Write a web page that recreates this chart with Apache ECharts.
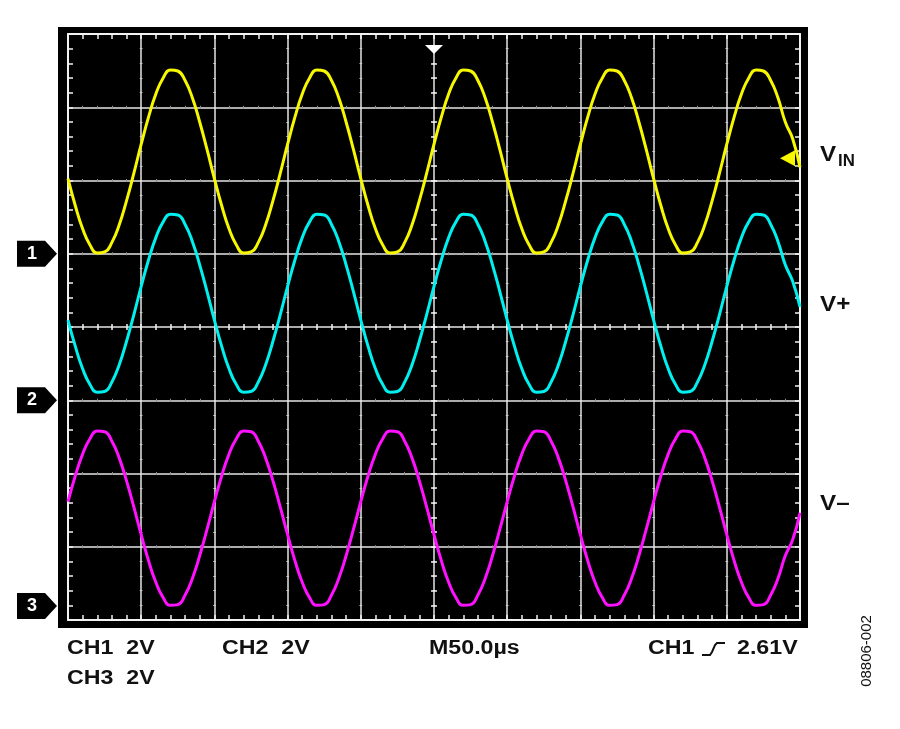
<!DOCTYPE html>
<html>
<head>
<meta charset="utf-8">
<script src="https://cdn.jsdelivr.net/npm/echarts@6.0.0/dist/echarts.min.js"></script>
<style>
html,body{margin:0;padding:0;background:#ffffff;}
#c{width:900px;height:729px;}
</style>
</head>
<body>
<div id="c"></div>
<script>
// ---- data ----
const SAMPLE_STEP_US = 5;          // one sample every 5 µs, 0 … 500 µs
const TIME_DIV_US = 50;            // M50.0µs
const VOLTS_PER_DIV = 2;           // CH1/CH2/CH3 2V
const CH1_GROUND_DIV = 1;          // marker "1" (divisions from screen centre)
const CH2_GROUND_DIV = -1;         // marker "2"
const CH3_GROUND_DIV = -3.81;      // marker "3"
const TRIGGER_LEVEL_V = 2.61;      // CH1 rising 2.61V

// VIN (CH1), volts
const CH1_VIN = [
  2.05,1.31,0.68,0.24,0.02,0.05,0.31,0.79,1.45,2.20,2.99,3.73,4.36,4.80,5.02,4.99,4.73,4.25,3.59,2.84,
  2.05,1.31,0.68,0.24,0.02,0.05,0.31,0.79,1.45,2.20,2.99,3.73,4.36,4.80,5.02,4.99,4.73,4.25,3.59,2.84,
  2.05,1.31,0.68,0.24,0.02,0.05,0.31,0.79,1.45,2.20,2.99,3.73,4.36,4.80,5.02,4.99,4.73,4.25,3.59,2.84,
  2.05,1.31,0.68,0.24,0.02,0.05,0.31,0.79,1.45,2.20,2.99,3.73,4.36,4.80,5.02,4.99,4.73,4.25,3.59,2.84,
  2.05,1.31,0.68,0.24,0.02,0.05,0.31,0.79,1.45,2.20,2.99,3.73,4.36,4.80,5.02,4.99,4.73,4.25,3.59,3.14,
  2.36
];
// V+ (CH2), volts
const CH2_VPLUS = [
  2.19,1.47,0.86,0.43,0.22,0.24,0.50,0.97,1.61,2.34,3.11,3.83,4.44,4.87,5.08,5.06,4.80,4.33,3.69,2.96,
  2.19,1.47,0.86,0.43,0.22,0.24,0.50,0.97,1.61,2.34,3.11,3.83,4.44,4.87,5.08,5.06,4.80,4.33,3.69,2.96,
  2.19,1.47,0.86,0.43,0.22,0.24,0.50,0.97,1.61,2.34,3.11,3.83,4.44,4.87,5.08,5.06,4.80,4.33,3.69,2.96,
  2.19,1.47,0.86,0.43,0.22,0.24,0.50,0.97,1.61,2.34,3.11,3.83,4.44,4.87,5.08,5.06,4.80,4.33,3.69,2.96,
  2.19,1.47,0.86,0.43,0.22,0.24,0.50,0.97,1.61,2.34,3.11,3.83,4.44,4.87,5.08,5.06,4.80,4.33,3.69,3.25,
  2.55
];
// V– (CH3), volts
const CH3_VMINUS = [
  2.85,3.56,4.15,4.57,4.78,4.76,4.50,4.04,3.42,2.70,1.95,1.24,0.65,0.23,0.02,0.04,0.30,0.76,1.38,2.10,
  2.85,3.56,4.15,4.57,4.78,4.76,4.50,4.04,3.42,2.70,1.95,1.24,0.65,0.23,0.02,0.04,0.30,0.76,1.38,2.10,
  2.85,3.56,4.15,4.57,4.78,4.76,4.50,4.04,3.42,2.70,1.95,1.24,0.65,0.23,0.02,0.04,0.30,0.76,1.38,2.10,
  2.85,3.56,4.15,4.57,4.78,4.76,4.50,4.04,3.42,2.70,1.95,1.24,0.65,0.23,0.02,0.04,0.30,0.76,1.38,2.10,
  2.85,3.56,4.15,4.57,4.78,4.76,4.50,4.04,3.42,2.70,1.95,1.24,0.65,0.23,0.02,0.04,0.30,0.76,1.38,1.81,
  2.55
];
const TRACE_NAMES = ['VIN', 'V+', 'V–'];
const TRACE_COLORS = ['#f7f700', '#00f0f0', '#ff10ff'];
const SCALE_LABELS = ['CH1  2V', 'CH3  2V', 'CH2  2V', 'M50.0µs', 'CH1', '2.61V'];
const FIG_ID = '08806-002';

(function () {
  function toPoints(volts, groundDiv) {
    return volts.map((v, i) => [i * SAMPLE_STEP_US, groundDiv + v / VOLTS_PER_DIV]);
  }

  const chart = echarts.init(document.getElementById('c'), null, {renderer: 'canvas'});

  const WHITE = '#f2f2f2';
  const tickLS = {color: WHITE, width: 1.5};
  const DOT = '#8f8f8f';

  function xAx(extra) {
    return Object.assign({
      type: 'value', min: 0, max: 10 * TIME_DIV_US, interval: TIME_DIV_US, gridIndex: 0,
      axisLine: {show: true, onZero: false, lineStyle: {color: WHITE, width: 2}},
      axisTick: {show: true, inside: true, length: 5, lineStyle: tickLS},
      minorTick: {show: true, splitNumber: 5, length: 5, lineStyle: tickLS},
      axisLabel: {show: false},
      splitLine: {show: false},
      minorSplitLine: {show: false}
    }, extra);
  }
  function yAx(extra) {
    return Object.assign({
      type: 'value', min: -4, max: 4, interval: 1, gridIndex: 0,
      axisLine: {show: true, onZero: false, lineStyle: {color: WHITE, width: 2}},
      axisTick: {show: true, inside: true, length: 5, lineStyle: tickLS},
      minorTick: {show: true, splitNumber: 5, length: 5, lineStyle: tickLS},
      axisLabel: {show: false},
      splitLine: {show: false},
      minorSplitLine: {show: false}
    }, extra);
  }
  const centreTick = (inside) => ({
    axisLine: {show: false, onZero: false},
    axisTick: {show: true, inside: inside, length: 3, lineStyle: tickLS},
    minorTick: {show: true, splitNumber: 5, length: 3, lineStyle: tickLS}
  });

  const option = {
    backgroundColor: '#ffffff',
    animation: false,
    grid: {left: 68, top: 34, width: 732, height: 586, show: false, containLabel: false, outerBoundsMode: 'none'},
    xAxis: [
      xAx({position: 'bottom',
        splitLine: {show: true, lineStyle: {color: '#e6e6e6', width: 1.5}},
        minorSplitLine: {show: true, lineStyle: {color: DOT, width: 1, type: [3, 70.25], dashOffset: 1.5}}}),
      xAx({position: 'top'}),
      xAx(Object.assign({position: 'bottom', offset: -293}, centreTick(true))),
      xAx(Object.assign({position: 'bottom', offset: -293}, centreTick(false)))
    ],
    yAxis: [
      yAx({position: 'left',
        splitLine: {show: true, lineStyle: {color: '#e6e6e6', width: 1.5}},
        minorSplitLine: {show: true, lineStyle: {color: DOT, width: 1, type: [3, 70.2], dashOffset: 1.5}}}),
      yAx({position: 'right'}),
      yAx(Object.assign({position: 'left', offset: -366}, centreTick(true))),
      yAx(Object.assign({position: 'left', offset: -366}, centreTick(false)))
    ],
    series: [
      {name: TRACE_NAMES[0], type: 'line', xAxisIndex: 0, yAxisIndex: 0, data: toPoints(CH1_VIN, CH1_GROUND_DIV),
       showSymbol: false, smooth: true, lineStyle: {color: TRACE_COLORS[0], width: 3}, z: 5},
      {name: TRACE_NAMES[1], type: 'line', xAxisIndex: 0, yAxisIndex: 0, data: toPoints(CH2_VPLUS, CH2_GROUND_DIV),
       showSymbol: false, smooth: true, lineStyle: {color: TRACE_COLORS[1], width: 3}, z: 5},
      {name: TRACE_NAMES[2], type: 'line', xAxisIndex: 0, yAxisIndex: 0, data: toPoints(CH3_VMINUS, CH3_GROUND_DIV),
       showSymbol: false, smooth: true, lineStyle: {color: TRACE_COLORS[2], width: 3}, z: 5}
    ]
  };
  chart.setOption(option);

  const py = (v) => chart.convertToPixel({yAxisIndex: 0}, v);
  const px = (v) => chart.convertToPixel({xAxisIndex: 0}, v);
  const FONT = '"Liberation Sans", Arial, Helvetica, sans-serif';
  const INK = '#111111';

  function marker(num, groundDiv) {
    const y = py(groundDiv);
    return {
      type: 'group', x: 17, y: y, children: [
        {type: 'polygon', shape: {points: [[0, -13], [28, -13], [40, 0], [28, 13], [0, 13]]}, style: {fill: '#000'}},
        {type: 'text', x: 15, y: 0, style: {text: String(num), fill: '#fff', font: 'bold 18px ' + FONT, align: 'center', verticalAlign: 'middle'}}
      ]
    };
  }
  function label(text, x, y, size, opts) {
    return Object.assign({
      type: 'text', x: x, y: y, scaleX: 1.16,
      style: {text: text, fill: INK, font: 'bold ' + size + 'px ' + FONT, align: 'left', verticalAlign: 'middle'}
    }, opts || {});
  }

  const gLeft = px(0), gRight = px(10 * TIME_DIV_US), gTop = py(4), gBottom = py(-4);
  const yTrig = py(CH1_GROUND_DIV + TRIGGER_LEVEL_V / VOLTS_PER_DIV);
  const xMid = px(5 * TIME_DIV_US);

  chart.setOption({
    graphic: [
      {type: 'rect', z: -100, shape: {x: gLeft - 10, y: gTop - 7, width: (gRight - gLeft) + 18, height: (gBottom - gTop) + 15}, style: {fill: '#000'}},
      marker(1, CH1_GROUND_DIV),
      marker(2, CH2_GROUND_DIV),
      marker(3, CH3_GROUND_DIV),
      {type: 'polygon', z: 10, shape: {points: [[xMid - 9, gTop + 11], [xMid + 9, gTop + 11], [xMid, gTop + 20]]}, style: {fill: '#fff'}},
      {type: 'polygon', z: 10, shape: {points: [[gRight - 20, yTrig], [gRight - 5, yTrig - 8], [gRight - 5, yTrig + 8]]}, style: {fill: TRACE_COLORS[0]}},
      label('V', 820, 155, 22, {scaleX: 1.1}),
      label('IN', 838, 162, 16, {scaleX: 1.05}),
      label('V+', 820, 305, 22, {scaleX: 1.1}),
      label('V–', 820, 503.5, 22, {scaleX: 1.1}),
      label(SCALE_LABELS[0], 67, 648, 20),
      label(SCALE_LABELS[1], 67, 678.5, 20),
      label(SCALE_LABELS[2], 222, 648, 20),
      label(SCALE_LABELS[3], 429, 648, 20),
      label(SCALE_LABELS[4], 648, 648, 20),
      {type: 'polyline', shape: {points: [[702, 655], [710, 655], [712, 652], [715, 645], [717, 643], [725, 643]]},
       style: {stroke: INK, lineWidth: 2, fill: null}},
      label(SCALE_LABELS[5], 737, 648, 20),
      {type: 'text', x: 867, y: 651, rotation: Math.PI / 2,
       style: {text: FIG_ID, fill: INK, font: '15px ' + FONT, align: 'center', verticalAlign: 'middle'}}
    ]
  });
})();
</script>
</body>
</html>
